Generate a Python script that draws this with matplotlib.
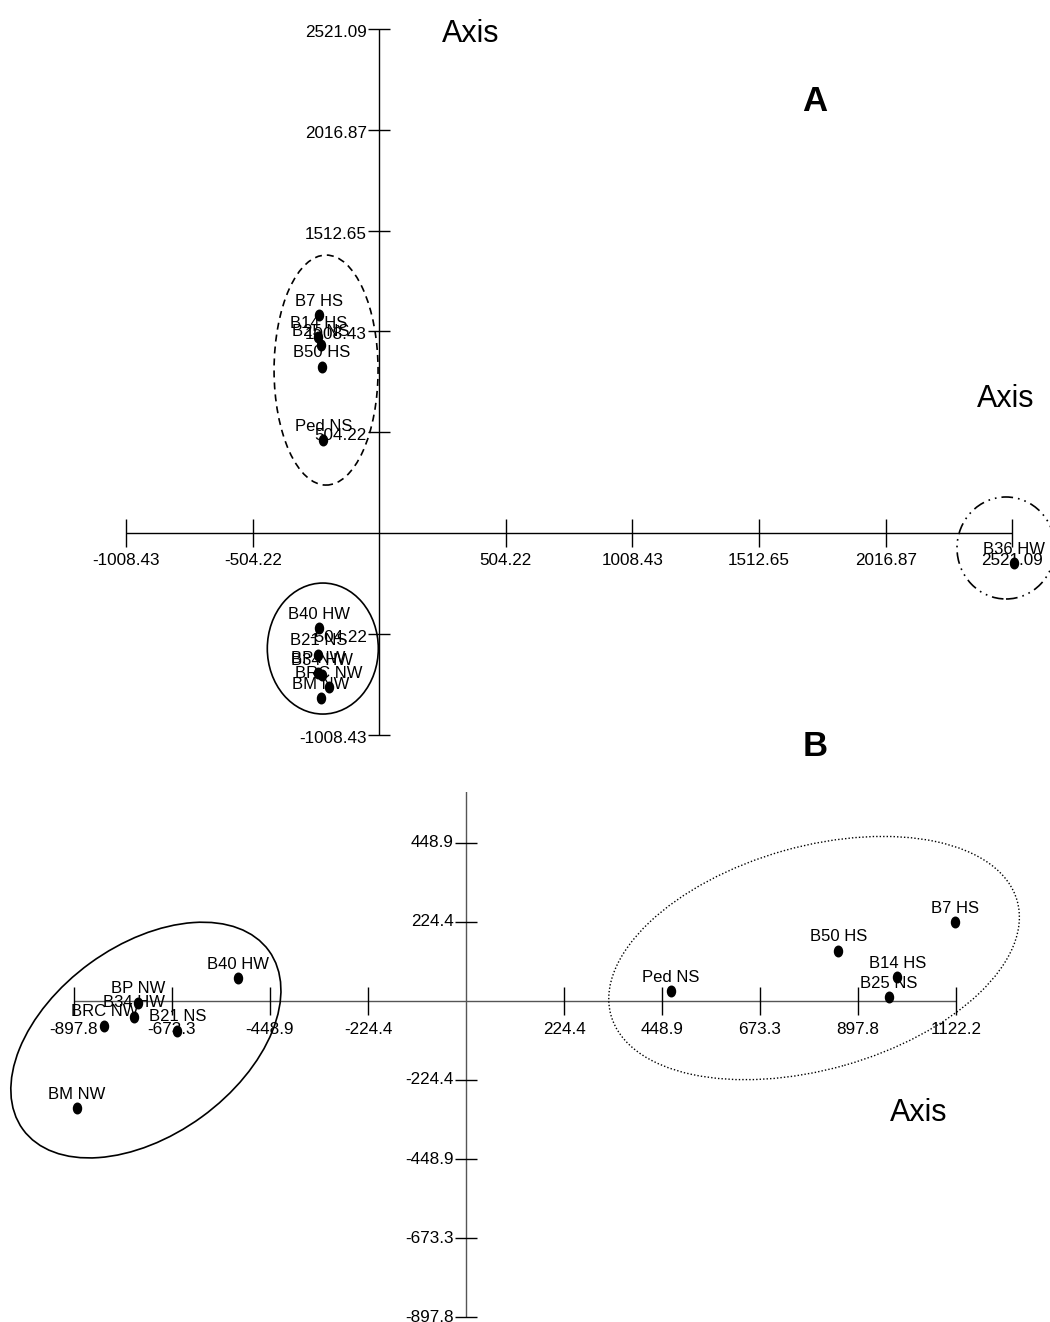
import numpy as np
import matplotlib
matplotlib.use("Agg")
import matplotlib.pyplot as plt
from matplotlib.patches import Ellipse
from matplotlib.path import Path
import matplotlib.transforms as mtransforms

plt.rcParams['font.family'] = ['Liberation Sans', 'DejaVu Sans']

# ---------------- Panel A data ----------------
a_labels = ["B7 HS", "B14 HS", "B25 NS", "B50 HS", "Ped NS", "B40 HW",
            "B21 NS", "BP NW", "B34 HW", "BRC NW", "BM NW", "B36 HW"]
a_x = [-239, -243, -233, -229, -223, -239, -243, -243, -229, -200, -232, 2528]
a_y = [1090, 979, 940, 832, 465, -477, -610, -699, -710, -772, -827, -152]
a_xticks = [-1008.43, -504.22, 504.22, 1008.43, 1512.65, 2016.87, 2521.09]
a_xtick_labels = ["-1008.43", "-504.22", "504.22", "1008.43", "1512.65", "2016.87", "2521.09"]
a_yticks = [2521.09, 2016.87, 1512.65, 1008.43, 504.22, -504.22, -1008.43]
a_ytick_labels = ["2521.09", "2016.87", "1512.65", "1008.43", "504.22", "-504.22", "-1008.43"]

# ---------------- Panel B data ----------------
b_labels = ["B7 HS", "B50 HS", "B14 HS", "B25 NS", "Ped NS", "B40 HW",
            "BP NW", "B34 HW", "BRC NW", "B21 NS", "BM NW"]
b_x = [1119.7, 852.5, 987.6, 968.6, 469.4, -522.8, -750.4, -759.5, -828.2, -661.0, -891.4]
b_y = [223.5, 142.9, 67.3, 10.5, 28.4, 64.5, -4.8, -44.6, -70.2, -84.4, -304.8]
b_xticks = [-897.8, -673.3, -448.9, -224.4, 224.4, 448.9, 673.3, 897.8, 1122.2]
b_xtick_labels = ["-897.8", "-673.3", "-448.9", "-224.4", "224.4", "448.9", "673.3", "897.8", "1122.2"]
b_yticks = [448.9, 224.4, -224.4, -448.9, -673.3, -897.8]
b_ytick_labels = ["448.9", "224.4", "-224.4", "-448.9", "-673.3", "-897.8"]
b_yaxis_top = 673.3

# group ellipses: centre in data units
a_groups_cx = [-212, -225, 2496]
a_groups_cy = [815, -578, -75]
b_groups_cx = [-733, 797]
b_groups_cy = [-111, 122]

# ---------------- layout ----------------
W, H = 1050, 1322
fig = plt.figure(figsize=(W / 100, H / 100), dpi=100)
fig.patch.set_facecolor('white')


def make_axes(top_px, bottom_px, x0_px, y0_px, ux, uy):
    ax = fig.add_axes([0, 1 - bottom_px / H, 1, (bottom_px - top_px) / H])
    ax.set_xlim(-x0_px * ux, (W - x0_px) * ux)
    ax.set_ylim(-(bottom_px - y0_px) * uy, (y0_px - top_px) * uy)
    ax.axis('off')
    return ax


axA = make_axes(0, 760, 379.3, 533, 504.22 / 126.6, 504.22 / 100.8)
axB = make_axes(792, 1322, 466, 1001, 224.4 / 98, 224.4 / 79)

# elliptical dot marker (slightly taller than wide)
circ = Path.unit_circle()
dot_path = Path(circ.vertices * np.array([0.76, 1.0]), circ.codes)


def draw_axes(ax, xticks, xlabels, yticks, ylabels, color, ylab_dy, ytop=None):
    ax.plot([min(xticks), max(xticks)], [0, 0], color=color, lw=1.0,
            solid_capstyle='butt', zorder=1)
    top = max(yticks) if ytop is None else ytop
    ax.plot([0, 0], [min(yticks), top], color=color, lw=1.0,
            solid_capstyle='butt', zorder=1)
    ax.plot(xticks, [0] * len(xticks), ls='none', marker='|', ms=20.2,
            mew=1.0, color='black', zorder=1)
    ax.plot([0] * len(yticks), yticks, ls='none', marker='_', ms=15.8,
            mew=1.0, color='black', zorder=1)
    for v, s in zip(xticks, xlabels):
        ax.annotate(s, (v, 0), xytext=(0, -32.5), textcoords='offset pixels',
                    ha='center', va='baseline', fontsize=12.3, color='black')
    for v, s in zip(yticks, ylabels):
        ax.annotate(s, (0, v), xytext=(-12.5, ylab_dy), textcoords='offset pixels',
                    ha='right', va='baseline', fontsize=12.3, color='black',
                    annotation_clip=False)


def draw_points(ax, xs, ys, labels):
    ax.plot(xs, ys, ls='none', marker=dot_path, ms=7.6, color='black', zorder=3)
    for x, y, s in zip(xs, ys, labels):
        ax.annotate(s, (x, y), xytext=(0, 9.5), textcoords='offset pixels',
                    ha='center', va='baseline', fontsize=12, color='black', zorder=4)


def add_ellipse(ax, cx, cy, w_px, h_px, angle, ls, lw):
    tr = mtransforms.ScaledTranslation(cx, cy, ax.transData)
    e = Ellipse((0, 0), w_px, h_px, angle=angle, transform=tr, fill=False,
                ec='black', lw=lw, ls=ls, zorder=2)
    ax.add_patch(e)


# Panel A
draw_axes(axA, a_xticks, a_xtick_labels, a_yticks, a_ytick_labels, 'black', -8)
draw_points(axA, a_x, a_y, a_labels)
add_ellipse(axA, a_groups_cx[0], a_groups_cy[0], 104, 230, 0, (0, (4.2, 3)), 1.2)
add_ellipse(axA, a_groups_cx[1], a_groups_cy[1], 111, 131, 0, '-', 1.2)
add_ellipse(axA, a_groups_cx[2], a_groups_cy[2], 98, 102, 0, (0, (7, 3, 1, 3, 1, 3)), 1.2)

# Panel B
draw_axes(axB, b_xticks, b_xtick_labels, b_yticks, b_ytick_labels, '#555555', -4.5,
          ytop=b_yaxis_top)
draw_points(axB, b_x, b_y, b_labels)
add_ellipse(axB, b_groups_cx[0], b_groups_cy[0], 304, 190, 36, '-', 1.2)
add_ellipse(axB, b_groups_cx[1], b_groups_cy[1], 422, 223, 15.75, (0, (1, 1.5)), 1.0)

# Titles / axis names
fig.text(471 / W, 1 - 41.7 / H, "Axis", ha='center', va='baseline', fontsize=22)
fig.text(1006 / W, 1 - 407 / H, "Axis", ha='center', va='baseline', fontsize=22)
fig.text(919 / W, 1 - 1121 / H, "Axis", ha='center', va='baseline', fontsize=22)
fig.text(814.7 / W, 1 - 110.7 / H, "A", ha='center', va='baseline', fontsize=25, fontweight='bold')
fig.text(815 / W, 1 - 756 / H, "B", ha='center', va='baseline', fontsize=25, fontweight='bold')

fig.savefig("out.png", dpi=100)
